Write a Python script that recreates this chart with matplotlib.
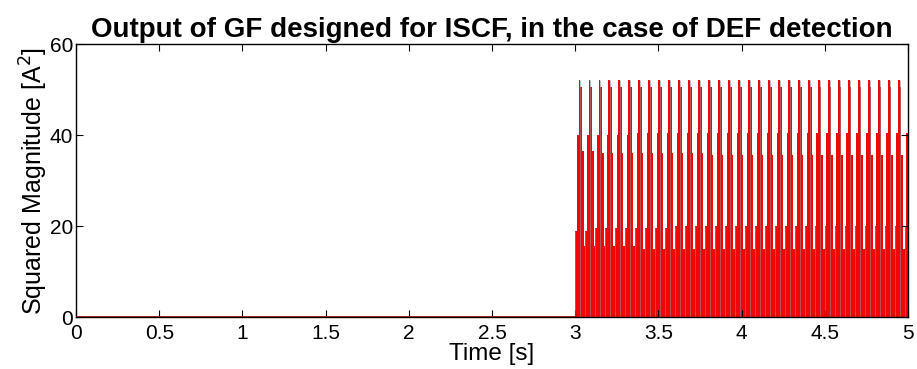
import numpy as np
import matplotlib
matplotlib.use('Agg')
import matplotlib.pyplot as plt

# one row per period of the DEF-detection output, dt = 0.01 s
t_start = 3.0
t_end = 5.0
dt = 0.01
periods = [
    [19.0, 40.0, 52.0, 50.5, 36.5, 15.5],
    [19.0, 40.0, 52.0, 50.5, 36.5, 15.5],
    [19.5, 40.0, 52.0, 50.5, 36.0, 15.5],
    [19.5, 40.0, 52.0, 50.5, 36.0, 15.5],
    [19.5, 40.0, 52.0, 50.5, 36.0, 15.5],
    [19.5, 40.0, 52.0, 50.5, 36.0, 15.5],
    [19.5, 40.5, 52.0, 50.5, 36.0, 15.0],
    [19.5, 40.5, 52.0, 50.5, 36.0, 15.0],
    [19.5, 40.5, 52.0, 50.5, 36.0, 15.0],
    [19.5, 40.5, 52.0, 50.5, 36.0, 15.0],
    [20.0, 40.5, 52.0, 50.5, 36.0, 15.0],
    [20.0, 40.5, 52.0, 50.5, 36.0, 15.0],
    [20.0, 40.5, 52.0, 50.5, 36.0, 15.0],
    [20.0, 40.5, 52.0, 50.5, 35.5, 15.0],
    [20.0, 40.5, 52.0, 50.5, 35.5, 15.0],
    [20.0, 40.5, 52.0, 50.5, 35.5, 15.0],
    [20.0, 40.5, 52.0, 50.5, 35.5, 15.0],
    [20.0, 40.5, 52.0, 50.5, 35.5, 15.0],
    [20.0, 40.5, 52.0, 50.5, 35.5, 15.0],
    [20.0, 40.5, 52.0, 50.5, 35.5, 15.0],
    [20.0, 40.5, 52.0, 50.5, 35.5, 15.0],
    [20.0, 40.5, 52.0, 50.5, 35.5, 15.0],
    [20.0, 40.5, 52.0, 50.5, 35.5, 15.0],
    [20.0, 40.5, 52.0, 50.5, 35.5, 15.0],
    [20.0, 40.5, 52.0, 50.5, 35.5, 15.0],
    [20.0, 40.5, 52.0, 50.5, 35.5, 15.0],
    [20.0, 40.5, 52.0, 50.5, 35.5, 15.0],
    [20.0, 40.5, 52.0, 50.5, 35.5, 15.0],
    [20.0, 40.5, 52.0, 50.5, 35.5, 15.0],
    [20.0, 40.5, 52.0, 50.5, 35.5, 15.0],
    [20.0, 40.5, 52.0, 50.5, 35.5, 15.0],
    [20.0, 40.5, 52.0, 50.5, 35.5, 15.0],
    [20.0, 40.5, 52.0, 50.5, 35.5, 15.0],
    [20.0, 40.5],
]
x_ticks = [0, 0.5, 1, 1.5, 2, 2.5, 3, 3.5, 4, 4.5, 5]
x_tick_labels = ['0', '0.5', '1', '1.5', '2', '2.5', '3', '3.5', '4', '4.5', '5']
y_ticks = [0, 20, 40, 60]

plt.rcParams['font.family'] = ['Liberation Sans', 'DejaVu Sans']

vals = np.concatenate([np.array(p) for p in periods])
t = t_start + dt * np.arange(len(vals))

fig = plt.figure(figsize=(9.17, 3.69), dpi=100)
ax = fig.add_axes([0.0829, 0.1409, 0.9073, 0.7398])

ax.plot([0, t_start], [0, 0], color='#8b1010', lw=2.0, zorder=3)
ax.fill_between(np.append(t, t_end), np.append(vals, vals[-1]), step='post',
                color='#f00808', linewidth=0)
# thin grey edges where each period starts and after each peak
ax.vlines(t[::6], 0, vals[::6], color='#8a8a8a', lw=0.5, alpha=0.8)
ax.vlines(t[3::6], 0, vals[2::6], color='#8a8a8a', lw=0.5, alpha=0.8)

ax.set_xlim(0, 5)
ax.set_ylim(0, 60)
ax.set_xticks(x_ticks)
ax.set_xticklabels(x_tick_labels)
ax.set_yticks(y_ticks)
ax.tick_params(direction='in', top=True, right=True, length=5, width=0.8,
               labelsize=15)
ax.tick_params(axis='x', pad=5)
ax.tick_params(axis='y', pad=2)
for s in ax.spines.values():
    s.set_linewidth(1.0)

ax.set_title('Output of GF designed for ISCF, in the case of DEF detection',
             fontsize=20, fontweight='bold', pad=5)
ax.set_xlabel('Time [s]', fontsize=17.5, labelpad=0)
ax.set_ylabel('Squared Magnitude [A$^2$]', fontsize=18, labelpad=0)

fig.savefig('out.png', dpi=100)
